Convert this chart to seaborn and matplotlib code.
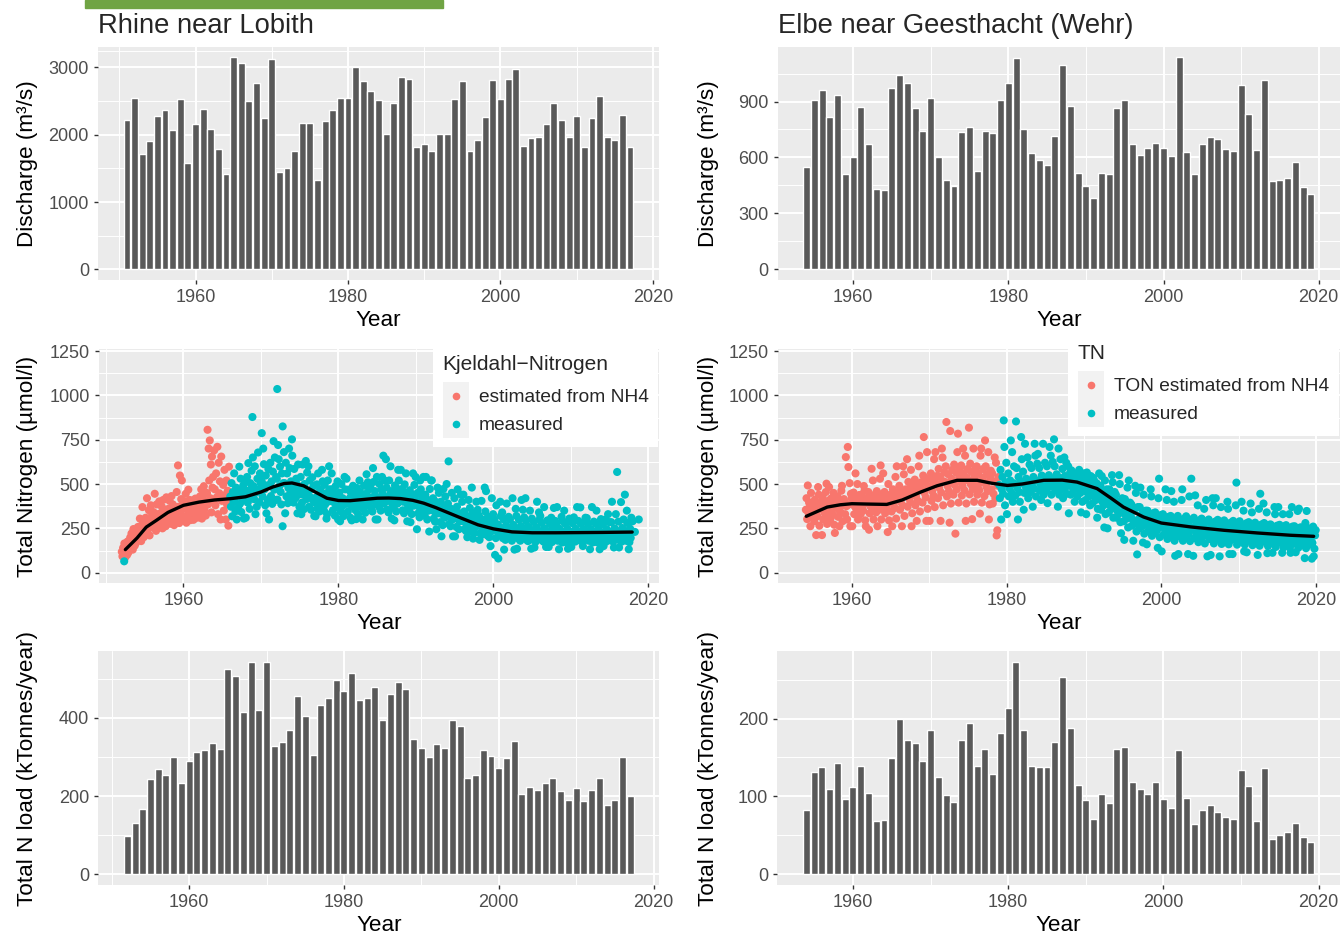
import matplotlib
matplotlib.use('Agg')
import matplotlib.pyplot as plt
import matplotlib.transforms as mtransforms
import pandas as pd
import seaborn as sns
from matplotlib.patches import Rectangle
from matplotlib.lines import Line2D
from matplotlib.legend_handler import HandlerBase

# ---- annual discharge (m3/s) ----
rhine_q_years = list(range(1951, 2018))
rhine_q = [2218, 2544, 1713, 1906, 2277, 2366, 2069, 2529, 1579, 2158,
           2381, 2084, 1787, 1416, 3153, 3064, 2500, 2767, 2247, 3123,
           1445, 1505, 1757, 2173, 2173, 1327, 2203, 2366, 2544, 2544,
           3005, 2797, 2648, 2515, 2010, 2470, 2856, 2826, 1817, 1861,
           1757, 2010, 2010, 2529, 2797, 1757, 1921, 2262, 2812, 2529,
           2826, 2975, 1832, 1950, 1965, 2158, 2470, 2218, 1965, 2277,
           1817, 2247, 2574, 1965, 1921, 2292, 1817]
elbe_q_years = list(range(1954, 2020))
elbe_q = [548, 907, 961, 816, 934, 511, 602, 870, 671, 430,
          425, 971, 1041, 998, 864, 741, 918, 602, 479, 446,
          736, 763, 527, 741, 730, 907, 998, 1132, 752, 623,
          586, 559, 714, 1095, 875, 516, 446, 382, 516, 511,
          864, 907, 671, 613, 650, 677, 650, 607, 1138, 629,
          511, 671, 709, 698, 645, 634, 988, 832, 639, 1014,
          473, 479, 489, 575, 441, 404]

# ---- annual total N load (kt/year) ----
rhine_load_years = list(range(1952, 2018))
rhine_load = [98, 132, 168, 244, 270, 255, 301, 234, 291, 314,
              319, 337, 321, 524, 506, 414, 542, 421, 544, 329,
              339, 370, 457, 406, 306, 432, 450, 498, 468, 514,
              447, 450, 480, 396, 462, 493, 473, 347, 324, 301,
              334, 324, 396, 380, 247, 255, 319, 303, 273, 298,
              342, 206, 224, 216, 234, 247, 214, 191, 221, 188,
              216, 247, 178, 191, 301, 201]
elbe_load_years = list(range(1954, 2020))
elbe_load = [83, 132, 138, 110, 143, 97, 112, 139, 105, 69,
             70, 149, 200, 173, 168, 145, 185, 125, 102, 93,
             173, 194, 139, 161, 129, 181, 214, 273, 185, 139,
             138, 138, 170, 253, 188, 115, 96, 71, 103, 92,
             161, 163, 119, 110, 103, 118, 97, 85, 160, 98,
             64, 83, 89, 80, 74, 71, 134, 114, 69, 136,
             45, 51, 55, 66, 48, 42]

# ---- total nitrogen samples (umol/l), per year in sampling order ----
rhine_est_years = list(range(1952, 1966))
rhine_est = [
    [118, 92, 140, 105, 165, 84, 128, 150, 99, 176, 112, 135],
    [160, 198, 142, 221, 175, 130, 246, 188, 152, 210, 168, 185],
    [212, 258, 190, 240, 305, 226, 178, 268, 370, 235, 200, 282],
    [265, 310, 228, 420, 284, 245, 352, 210, 298, 380, 258, 330],
    [290, 342, 255, 445, 312, 236, 385, 276, 330, 268, 402, 305],
    [335, 288, 372, 250, 410, 316, 298, 352, 262, 425, 308, 345],
    [360, 318, 405, 276, 342, 432, 298, 385, 330, 268, 372, 350],
    [330, 455, 298, 605, 372, 280, 548, 345, 415, 520, 310, 390],
    [365, 402, 318, 445, 282, 388, 352, 468, 330, 410, 296, 375],
    [372, 340, 408, 298, 390, 355, 418, 326, 384, 310, 400, 362],
    [388, 430, 342, 470, 305, 412, 376, 488, 356, 445, 322, 402],
    [450, 806, 385, 700, 520, 746, 420, 610, 340, 655, 480, 540, 405, 690],
    [470, 380, 560, 425, 710, 330, 620, 448, 515, 300, 655, 405],
    [410, 495, 350, 580, 438, 300, 520, 385, 462, 265, 598, 420],
]
rhine_meas_years = list(range(1966, 2019))
rhine_meas = [
    [430, 372, 505, 318, 455, 398, 560, 415, 346, 480, 300, 440],
    [365, 455, 598, 388, 530, 342, 470, 410, 492, 305, 440, 515],
    [310, 462, 540, 395, 618, 430, 360, 505, 472, 575, 418, 650],
    [488, 415, 600, 330, 452, 372, 530, 678, 470, 398, 560, 505],
    [525, 510, 430, 700, 612, 470, 380, 548, 335, 492, 410, 585],
    [300, 495, 620, 432, 515, 388, 570, 742, 468, 650, 410, 540],
    [530, 412, 720, 640, 488, 598, 455, 385, 560, 262, 505, 680],
    [505, 335, 620, 430, 560, 392, 478, 700, 590, 450, 515, 410],
    [660, 480, 395, 585, 452, 420, 530, 500, 335, 610, 440, 372],
    [470, 540, 330, 395, 610, 440, 358, 500, 455, 630, 415, 565],
    [448, 600, 372, 520, 425, 355, 470, 538, 410, 490, 320, 395],
    [318, 425, 498, 362, 560, 412, 345, 470, 440, 385, 580, 515],
    [415, 350, 495, 385, 448, 305, 330, 520, 402, 600, 470, 432],
    [405, 560, 470, 352, 398, 445, 322, 488, 375, 420, 515, 300],
    [398, 452, 290, 345, 500, 375, 420, 318, 410, 540, 470, 388],
    [530, 402, 345, 468, 388, 420, 310, 450, 295, 372, 490, 415],
    [395, 440, 352, 302, 478, 410, 330, 385, 520, 455, 420, 370],
    [415, 300, 362, 490, 400, 338, 445, 555, 380, 510, 428, 470],
    [420, 480, 365, 405, 345, 590, 512, 432, 460, 300, 388, 540],
    [300, 425, 372, 500, 410, 350, 470, 540, 445, 660, 390, 520],
    [418, 640, 480, 355, 405, 340, 520, 438, 600, 460, 305, 385],
    [420, 365, 295, 492, 410, 345, 455, 390, 580, 520, 438, 470],
    [580, 412, 470, 352, 400, 335, 498, 425, 560, 445, 290, 380],
    [405, 355, 465, 285, 390, 330, 440, 560, 378, 495, 418, 540],
    [390, 245, 450, 335, 372, 312, 520, 470, 400, 430, 355, 540],
    [378, 322, 440, 540, 365, 300, 410, 350, 232, 472, 395, 520],
    [520, 360, 420, 305, 345, 288, 400, 245, 372, 480, 335, 450],
    [342, 285, 400, 205, 330, 268, 472, 365, 310, 430, 352, 500],
    [330, 390, 628, 275, 315, 262, 360, 450, 300, 205, 340, 420],
    [205, 312, 258, 372, 470, 300, 245, 335, 290, 440, 322, 400],
    [292, 440, 345, 245, 282, 235, 320, 200, 265, 410, 305, 365],
    [282, 232, 480, 338, 192, 270, 225, 310, 258, 400, 295, 355],
    [272, 322, 185, 222, 262, 405, 215, 300, 248, 285, 480, 345],
    [460, 258, 210, 315, 245, 200, 285, 150, 232, 420, 270, 330],
    [248, 300, 100, 195, 380, 235, 272, 80, 215, 258, 400, 320],
    [242, 340, 195, 300, 130, 232, 185, 265, 390, 220, 250, 315],
    [245, 300, 195, 232, 180, 420, 270, 218, 130, 255, 360, 320],
    [135, 238, 192, 298, 228, 180, 262, 410, 210, 355, 248, 312],
    [232, 420, 290, 185, 222, 178, 258, 205, 350, 242, 135, 305],
    [230, 185, 285, 142, 220, 175, 255, 400, 202, 238, 340, 300],
    [320, 228, 280, 182, 218, 175, 370, 250, 200, 145, 236, 295],
    [226, 145, 182, 278, 215, 310, 172, 248, 198, 365, 235, 292],
    [226, 278, 370, 180, 215, 132, 248, 196, 235, 315, 170, 290],
    [225, 350, 180, 276, 214, 170, 246, 135, 196, 305, 232, 288],
    [145, 226, 278, 182, 312, 216, 175, 248, 198, 370, 234, 292],
    [225, 182, 368, 278, 215, 175, 150, 246, 198, 232, 310, 290],
    [308, 225, 276, 180, 214, 132, 246, 195, 370, 170, 232, 288],
    [225, 176, 275, 350, 212, 170, 245, 194, 132, 230, 302, 285],
    [225, 272, 150, 182, 215, 300, 175, 245, 198, 330, 232, 285],
    [228, 182, 285, 400, 218, 175, 142, 250, 200, 330, 236, 568],
    [230, 288, 142, 182, 220, 398, 175, 252, 200, 300, 238, 440],
    [228, 180, 350, 280, 216, 132, 172, 248, 196, 310, 234, 290],
    [230, 300],
]
rhine_extra_t = [1952.35, 1968.9, 1970.1, 1972.1, 1972.8, 1974.0]
rhine_extra_v = [64, 878, 787, 1036, 825, 752]

elbe_est_years = list(range(1954, 1979))
elbe_est = [
    [355, 420, 302, 492, 338, 395, 370, 262, 450, 315, 380, 345],
    [348, 290, 412, 330, 212, 372, 318, 483, 440, 265, 360, 395],
    [362, 212, 425, 300, 345, 390, 330, 455, 502, 275, 372, 405],
    [483, 358, 302, 418, 340, 385, 325, 450, 270, 224, 368, 400],
    [372, 430, 315, 355, 262, 400, 340, 462, 490, 290, 380, 415],
    [398, 330, 652, 375, 300, 709, 596, 385, 505, 262, 445, 420],
    [262, 390, 452, 330, 372, 560, 420, 355, 500, 300, 405, 438],
    [380, 330, 440, 365, 405, 350, 489, 462, 295, 262, 392, 420],
    [392, 455, 242, 335, 375, 425, 586, 360, 520, 300, 408, 440],
    [390, 340, 460, 262, 375, 420, 355, 530, 605, 300, 405, 445],
    [560, 392, 455, 335, 372, 425, 358, 229, 500, 295, 410, 440],
    [402, 345, 262, 470, 385, 432, 365, 540, 305, 600, 415, 455],
    [420, 490, 355, 400, 452, 262, 380, 600, 555, 320, 435, 470],
    [440, 640, 372, 512, 420, 475, 398, 580, 262, 335, 455, 495],
    [450, 525, 380, 430, 292, 488, 405, 600, 660, 345, 465, 510],
    [470, 395, 548, 765, 450, 510, 425, 292, 680, 360, 488, 530],
    [292, 482, 560, 405, 460, 522, 435, 640, 370, 680, 500, 545],
    [500, 420, 585, 478, 540, 292, 452, 700, 650, 380, 515, 565],
    [510, 600, 850, 430, 488, 555, 460, 282, 799, 390, 530, 580],
    [520, 440, 610, 495, 220, 565, 470, 680, 784, 395, 540, 590],
    [515, 605, 435, 492, 700, 560, 465, 660, 292, 390, 535, 585],
    [520, 818, 442, 615, 498, 568, 302, 472, 700, 400, 540, 592],
    [515, 600, 440, 492, 560, 465, 333, 660, 700, 395, 535, 585],
    [510, 432, 746, 600, 485, 555, 460, 680, 300, 385, 530, 575],
    [470, 560, 390, 445, 515, 650, 420, 620, 210, 239, 490, 540],
]
elbe_meas_years = list(range(1979, 2020))
elbe_meas = [
    [495, 420, 580, 300, 470, 540, 445, 859, 709, 380, 510, 620],
    [330, 498, 560, 430, 475, 520, 746, 452, 680, 400, 505, 600],
    [500, 435, 853, 590, 480, 300, 540, 455, 400, 515, 765, 640],
    [505, 570, 355, 450, 727, 485, 530, 470, 650, 420, 510, 610],
    [510, 455, 590, 490, 372, 540, 475, 727, 660, 430, 520, 615],
    [670, 518, 590, 462, 498, 410, 548, 480, 727, 440, 525, 620],
    [520, 462, 600, 392, 500, 550, 709, 485, 660, 440, 530, 625],
    [522, 752, 600, 465, 502, 555, 488, 372, 700, 440, 535, 640],
    [520, 470, 585, 420, 500, 650, 545, 482, 620, 445, 530, 600],
    [335, 505, 565, 440, 577, 485, 530, 465, 560, 400, 515, 550],
    [490, 430, 550, 470, 580, 515, 450, 340, 540, 400, 500, 560],
    [470, 530, 410, 330, 565, 450, 495, 430, 520, 380, 545, 480],
    [450, 392, 535, 520, 430, 475, 410, 505, 310, 360, 460, 560],
    [420, 490, 355, 545, 400, 450, 380, 255, 520, 330, 430, 470],
    [250, 400, 340, 470, 380, 430, 360, 550, 510, 310, 410, 455],
    [370, 440, 310, 350, 400, 330, 550, 500, 285, 222, 385, 420],
    [345, 290, 185, 415, 325, 375, 305, 480, 255, 520, 355, 395],
    [320, 385, 265, 300, 180, 350, 280, 490, 450, 232, 103, 370],
    [300, 250, 370, 480, 282, 330, 262, 170, 440, 220, 310, 350],
    [285, 160, 350, 235, 268, 315, 250, 470, 430, 208, 295, 335],
    [275, 225, 340, 258, 305, 240, 140, 420, 530, 200, 285, 325],
    [120, 265, 330, 215, 250, 295, 470, 230, 410, 190, 272, 315],
    [255, 205, 320, 460, 240, 285, 222, 400, 180, 95, 262, 305],
    [255, 320, 105, 205, 240, 285, 222, 410, 470, 180, 262, 305],
    [250, 200, 318, 235, 280, 105, 218, 430, 178, 258, 530, 300],
    [245, 95, 310, 195, 436, 230, 275, 212, 380, 172, 252, 295],
    [240, 192, 305, 225, 270, 208, 360, 165, 248, 410, 290, 92],
    [238, 300, 190, 222, 100, 268, 205, 420, 380, 165, 245, 288],
    [420, 235, 188, 298, 220, 265, 92, 202, 370, 162, 242, 285],
    [232, 295, 185, 218, 262, 200, 400, 360, 160, 105, 240, 282],
    [230, 185, 105, 292, 215, 260, 198, 380, 508, 158, 238, 280],
    [228, 290, 182, 212, 400, 258, 195, 350, 120, 158, 235, 278],
    [115, 225, 180, 285, 210, 255, 390, 192, 340, 155, 232, 275],
    [222, 282, 178, 208, 252, 100, 190, 360, 152, 445, 230, 272],
    [220, 175, 390, 280, 205, 250, 188, 340, 110, 150, 228, 270],
    [215, 272, 172, 200, 112, 245, 182, 370, 330, 145, 222, 265],
    [212, 370, 170, 270, 198, 242, 180, 112, 330, 142, 220, 262],
    [210, 268, 168, 195, 240, 178, 330, 140, 112, 218, 370, 260],
    [208, 165, 262, 192, 115, 238, 175, 348, 140, 361, 215, 255],
    [205, 255, 160, 188, 232, 170, 82, 280, 138, 348, 212, 250],
    [200, 158, 248, 185, 228, 79, 168, 260, 92, 135, 210, 240],
]
elbe_extra_t = []
elbe_extra_v = []

# ---- smoothed trend lines ----
rhine_smooth_t = [1952.5, 1954, 1955.2, 1956.5, 1958, 1960, 1962, 1964, 1966, 1968,
                  1970, 1971.5, 1973, 1974, 1975.5, 1977, 1978.5, 1980, 1981.5, 1983,
                  1985, 1986.5, 1988, 1989.6, 1991, 1992.5, 1994, 1996, 1998, 2000,
                  2002.4, 2005, 2008, 2011, 2014, 2017.9]
rhine_smooth_v = [130, 195, 257, 295, 340, 380, 398, 410, 417, 428,
                  455, 483, 503, 506, 490, 455, 420, 407, 406, 412,
                  420, 421, 418, 408, 392, 368, 341, 305, 270, 247,
                  230, 225, 225, 226, 227, 229]
elbe_smooth_t = [1954.1, 1955.5, 1956.8, 1958.5, 1960, 1962, 1964.5, 1966.5, 1968.9, 1971,
                 1973.6, 1976.2, 1978, 1980.1, 1982, 1984.8, 1987.2, 1989.1, 1991.7, 1993.5,
                 1995.1, 1997.7, 2000, 2003.8, 2008.1, 2012.4, 2016.7, 2019.7]
elbe_smooth_v = [318, 345, 370, 383, 389, 387, 385, 410, 455, 490,
                 521, 521, 505, 492, 500, 521, 522, 511, 474, 420,
                 370, 314, 280, 258, 239, 224, 211, 205]

RED = '#F8766D'
CYAN = '#00BFC4'
BAR = '#595959'

sns.set_theme(style='darkgrid', rc={'axes.facecolor': '#EBEBEB', 'grid.color': 'white'})
plt.rcParams['font.family'] = ['Liberation Sans', 'DejaVu Sans']

W, H = 1340, 934
fig = plt.figure(figsize=(13.4, 9.34), dpi=100)
fig.patches.append(Rectangle((85 / W, 1 - 8 / H), (443 - 85) / W, 8 / H,
                             transform=fig.transFigure, color='#70A444'))


def panel(x0, y0, x1, y1):
    return fig.add_axes([x0 / W, 1 - y1 / H, (x1 - x0) / W, (y1 - y0) / H])


def style(ax, ymajor, yminor, ylabel, label_x, xminor=(1950, 1970, 1990, 2010)):
    ax.set_xticks([1960, 1980, 2000, 2020])
    ax.set_xticks(list(xminor), minor=True)
    ax.set_yticks(ymajor)
    ax.set_yticks(yminor, minor=True)
    ax.grid(which='major', color='white', linewidth=1.4)
    ax.grid(which='minor', color='white', linewidth=0.7)
    ax.set_axisbelow(True)
    for s in ax.spines.values():
        s.set_visible(False)
    ax.tick_params(which='major', bottom=True, left=True, length=3, width=1.0,
                   color='#333333', labelcolor='#4D4D4D', labelsize=13, pad=3.5)
    ax.tick_params(which='minor', bottom=False, left=False, length=0)
    ax.set_xlabel('Year', fontsize=16.2, labelpad=3, color='black')
    ax.set_ylabel(ylabel, fontsize=16.2, color='black')
    trans = mtransforms.blended_transform_factory(fig.transFigure, ax.transAxes)
    ax.yaxis.set_label_coords(label_x / W, 0.5, transform=trans)


def bars(ax, years, vals):
    sns.barplot(x=years, y=vals, native_scale=True, width=0.9, color=BAR,
                saturation=1, errorbar=None, ax=ax)
    span = years[-1] - years[0] + 0.9
    ax.set_xlim(years[0] - 0.45 - 0.05 * span, years[-1] + 0.45 + 0.05 * span)
    top = max(vals)
    ax.set_ylim(-0.05 * top, 1.05 * top)


def cloud(ax, est_years, est, meas_years, meas, extra_t, extra_v, sm_t, sm_v, xlim):
    rows = []
    for kind, yrs, vals in (('est', est_years, est), ('meas', meas_years, meas)):
        for yr, vs in zip(yrs, vals):
            for k, v in enumerate(vs):
                rows.append((yr + (k + 0.5) / len(vs), v, kind))
    for t, v in zip(extra_t, extra_v):
        rows.append((t, v, 'meas'))
    df = pd.DataFrame(rows, columns=['time', 'value', 'kind'])
    sns.scatterplot(data=df, x='time', y='value', hue='kind',
                    palette={'est': RED, 'meas': CYAN}, s=34, linewidth=0,
                    legend=False, ax=ax)
    sns.lineplot(x=sm_t, y=sm_v, color='black', linewidth=2.4, ax=ax)
    ax.set_xlim(*xlim)
    ax.set_ylim(-60, 1260)


class KeyHandler(HandlerBase):
    def create_artists(self, legend, orig_handle, xdescent, ydescent, width,
                       height, fontsize, trans):
        bg = Rectangle((-xdescent, -ydescent), width, height, facecolor='#F2F2F2',
                       edgecolor='none', transform=trans)
        dot = Line2D([width / 2 - xdescent], [height / 2 - ydescent], marker='o',
                     markersize=5.5, markeredgewidth=0, color=orig_handle.get_color(),
                     linestyle='none', transform=trans)
        return [bg, dot]


def key_legend(ax, title, labels, x, y):
    handles = [Line2D([], [], color=RED), Line2D([], [], color=CYAN)]
    leg = ax.legend(handles, labels, title=title, loc='upper left',
                    bbox_to_anchor=(x / W, 1 - y / H), bbox_transform=fig.transFigure,
                    handler_map={Line2D: KeyHandler()}, fontsize=13.8,
                    title_fontproperties={'size': 15}, alignment='left',
                    handlelength=1.4, handleheight=1.87, labelspacing=0,
                    handletextpad=0.5, borderpad=0.5, borderaxespad=0,
                    frameon=True, fancybox=False, facecolor='white',
                    edgecolor='none', framealpha=1)
    leg._legend_box.sep = 6
    leg.set_zorder(10)


q_l = panel(98, 46.5, 659, 280)
bars(q_l, rhine_q_years, rhine_q)
style(q_l, [0, 1000, 2000, 3000], [500, 1500, 2500, 3250], 'Discharge (m³/s)', 38)
q_l.set_title('Rhine near Lobith', loc='left', fontsize=19.7, pad=9.7)

q_r = panel(777.5, 46.5, 1340, 280)
bars(q_r, elbe_q_years, elbe_q)
style(q_r, [0, 300, 600, 900], [150, 450, 750, 1050], 'Discharge (m³/s)', 719,
      xminor=(1970, 1990, 2010))
q_r.set_title('Elbe near Geesthacht (Wehr)', loc='left', fontsize=19.7, pad=9.7)

n_l = panel(99, 349.3, 659.3, 583.3)
cloud(n_l, rhine_est_years, rhine_est, rhine_meas_years, rhine_meas,
      rhine_extra_t, rhine_extra_v, rhine_smooth_t, rhine_smooth_v, (1949.1, 2021.4))
style(n_l, [0, 250, 500, 750, 1000, 1250], [125, 375, 625, 875, 1125],
      'Total Nitrogen (µmol/l)', 38)
key_legend(n_l, 'Kjeldahl−Nitrogen', ['estimated from NH4', 'measured'], 433, 345)

n_r = panel(777.7, 349.3, 1340, 583.3)
cloud(n_r, elbe_est_years, elbe_est, elbe_meas_years, elbe_meas,
      elbe_extra_t, elbe_extra_v, elbe_smooth_t, elbe_smooth_v, (1950.4, 2023.1))
style(n_r, [0, 250, 500, 750, 1000, 1250], [125, 375, 625, 875, 1125],
      'Total Nitrogen (µmol/l)', 719, xminor=(1970, 1990, 2010))
key_legend(n_r, 'TN', ['TON estimated from NH4', 'measured'], 1068, 334)

l_l = panel(98.3, 651, 659.3, 885)
bars(l_l, rhine_load_years, rhine_load)
style(l_l, [0, 200, 400], [100, 300, 500], 'Total N load (kTonnes/year)', 38)

l_r = panel(777.3, 651, 1340, 885)
bars(l_r, elbe_load_years, elbe_load)
style(l_r, [0, 100, 200], [50, 150, 250], 'Total N load (kTonnes/year)', 719,
      xminor=(1970, 1990, 2010))

fig.savefig('out.png', dpi=100)
